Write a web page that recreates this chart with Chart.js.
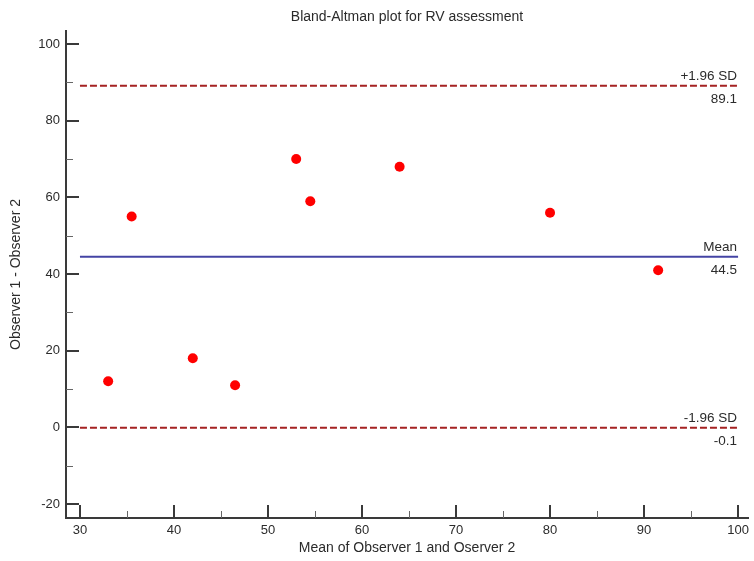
<!DOCTYPE html>
<html>
<head>
<meta charset="utf-8">
<script src="https://cdn.jsdelivr.net/npm/chart.js@4.4.1/dist/chart.umd.min.js"></script>
<style>
html, body { margin: 0; padding: 0; background: #fff; }
</style>
</head>
<body>
<canvas id="baChart" width="754" height="561"></canvas>
<script>
// mean of the two observers (x) and their difference (y)
const pairMeans = [33, 35.5, 42, 46.5, 53, 54.5, 64, 80, 91.5];
const pairDiffs = [12, 55, 18, 11, 70, 59, 68, 56, 41];

// mean difference and limits of agreement
const meanDiff = 44.5;
const upperLimit = 89.1;
const lowerLimit = -0.1;
const lineStart = 30;
const lineEnd = 100;

const xTicks = [30, 40, 50, 60, 70, 80, 90, 100];
const xMinor = [35, 45, 55, 65, 75, 85, 95];
const yTicks = [-20, 0, 20, 40, 60, 80, 100];
const yMinor = [-10, 10, 30, 50, 70, 90];

const lineLabels = [
  { value: upperLimit, name: "+1.96 SD" },
  { value: meanDiff, name: "Mean" },
  { value: lowerLimit, name: "-1.96 SD" }
];

const FONT = "'Liberation Sans', Arial, sans-serif";
const TEXT = "#2b2b2b";
const AXIS = "#3a3a3a";

function hLine(v) {
  return [{ x: lineStart, y: v }, { x: lineEnd, y: v }];
}

// tick marks point inward, plus the captions on the reference lines
const innerTicks = {
  id: "innerTicks",
  afterDraw(chart) {
    const { ctx, chartArea, scales: { x, y } } = chart;
    const bottom = chartArea.bottom, left = chartArea.left;
    ctx.save();
    ctx.strokeStyle = AXIS;
    ctx.lineWidth = 2;
    ctx.beginPath();
    xTicks.forEach(v => {
      const px = Math.round(x.getPixelForValue(v));
      ctx.moveTo(px, bottom); ctx.lineTo(px, bottom - 13);
    });
    yTicks.forEach(v => {
      const py = Math.round(y.getPixelForValue(v));
      ctx.moveTo(left, py); ctx.lineTo(left + 13, py);
    });
    ctx.stroke();
    ctx.lineWidth = 1;
    ctx.strokeStyle = "#666";
    ctx.beginPath();
    xMinor.forEach(v => {
      const px = Math.round(x.getPixelForValue(v)) + 0.5;
      ctx.moveTo(px, bottom); ctx.lineTo(px, bottom - 7);
    });
    yMinor.forEach(v => {
      const py = Math.round(y.getPixelForValue(v)) + 0.5;
      ctx.moveTo(left, py); ctx.lineTo(left + 7, py);
    });
    ctx.stroke();

    ctx.fillStyle = TEXT;
    ctx.font = "13.5px " + FONT;
    ctx.textAlign = "right";
    const rx = x.getPixelForValue(lineEnd) - 1;
    lineLabels.forEach(l => {
      const py = y.getPixelForValue(l.value);
      ctx.textBaseline = "bottom";
      ctx.fillText(l.name, rx, py - 3);
      ctx.textBaseline = "top";
      ctx.fillText(l.value.toFixed(1), rx, py + 7);
    });
    ctx.restore();
  }
};

new Chart(document.getElementById("baChart"), {
  type: "scatter",
  data: {
    datasets: [
      {
        label: "Upper limit",
        data: hLine(upperLimit),
        showLine: true,
        borderColor: "#a52222",
        borderWidth: 2,
        borderDash: [7, 3],
        pointRadius: 0
      },
      {
        label: "Mean",
        data: hLine(meanDiff),
        showLine: true,
        borderColor: "#4444a4",
        borderWidth: 2,
        pointRadius: 0
      },
      {
        label: "Lower limit",
        data: hLine(lowerLimit),
        showLine: true,
        borderColor: "#a52222",
        borderWidth: 2,
        borderDash: [7, 3],
        pointRadius: 0
      },
      {
        label: "Differences",
        data: pairMeans.map((m, i) => ({ x: m, y: pairDiffs[i] })),
        backgroundColor: "#ff0000",
        borderWidth: 0,
        pointRadius: 5
      }
    ]
  },
  options: {
    responsive: false,
    animation: false,
    layout: { padding: { right: 4 } },
    plugins: {
      legend: { display: false },
      tooltip: { enabled: false },
      title: {
        display: true,
        fullSize: false,
        text: "Bland-Altman plot for RV assessment",
        color: TEXT,
        font: { family: FONT, size: 14, weight: "normal" },
        padding: { top: 9, bottom: 5.2 }
      }
    },
    scales: {
      x: {
        type: "linear",
        min: 28.515,
        max: 101.06,
        afterBuildTicks(scale) { scale.ticks = xTicks.map(v => ({ value: v })); },
        afterFit(scale) { scale.height = 43; },
        grid: { display: false, drawTicks: false },
        border: { display: true, color: AXIS, width: 2 },
        ticks: { color: TEXT, padding: 5, font: { family: FONT, size: 13 } },
        title: {
          display: true,
          text: "Mean of Observer 1 and Oserver 2",
          color: TEXT,
          font: { family: FONT, size: 14 },
          padding: { top: 0, bottom: 4 }
        }
      },
      y: {
        type: "linear",
        min: -23.65,
        max: 103.39,
        afterBuildTicks(scale) { scale.ticks = yTicks.map(v => ({ value: v })); },
        afterFit(scale) { scale.width = 66; },
        grid: { display: false, drawTicks: false },
        border: { display: true, color: AXIS, width: 2 },
        ticks: { color: TEXT, padding: 6, font: { family: FONT, size: 13 } },
        title: {
          display: true,
          text: "Observer 1 - Observer 2",
          color: TEXT,
          font: { family: FONT, size: 14 },
          padding: { top: 8, bottom: 0 }
        }
      }
    }
  },
  plugins: [innerTicks]
});
</script>
</body>
</html>
